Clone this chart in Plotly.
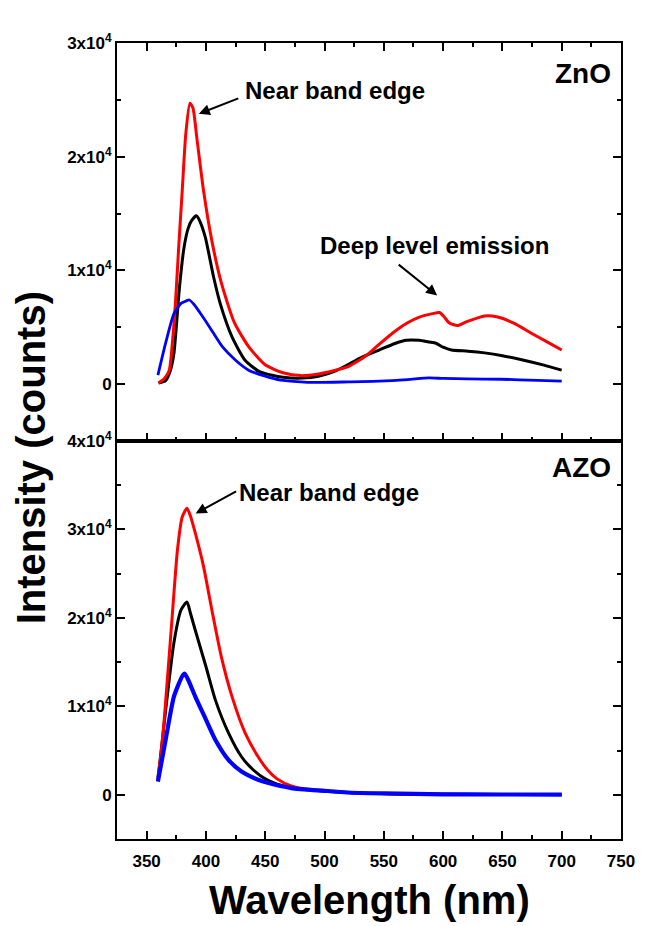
import plotly.graph_objects as go

# ---------------- data ----------------
# Top panel: ZnO
zno_red_x = [360, 365, 369, 372, 374.5, 377, 380, 383, 386.5, 389, 392.5, 398, 405, 413, 424, 436, 450,
             465, 480, 495, 510, 520, 535, 546, 560, 570, 580, 591, 597, 601, 605, 612, 620, 635, 646,
             660, 674, 688, 700]
zno_red_y = [100, 500, 1200, 4000, 7500, 12000, 17000, 22000, 24700, 24300, 21500, 17000, 12600, 8900,
             5400, 3300, 1700, 1000, 750, 900, 1250, 1550, 2500, 3500, 4700, 5400, 5900, 6200, 6300,
             5900, 5400, 5150, 5500, 6000, 5900, 5350, 4500, 3700, 3000]

zno_black_x = [360, 366, 370, 373, 375, 377.5, 381.5, 385, 388, 392, 395, 399.5, 406.5, 412, 422, 433,
               445, 455, 465, 481, 495, 510, 519, 530, 546, 560, 569, 580, 588, 594, 600, 607, 621,
               635, 650, 668, 685, 700]
zno_black_y = [100, 300, 1200, 2700, 5000, 8300, 12000, 13700, 14400, 14800, 14300, 12900, 9400, 7100,
               4150, 2100, 1100, 800, 600, 530, 700, 1200, 1670, 2300, 3000, 3600, 3860, 3850, 3700,
               3600, 3250, 3000, 2900, 2750, 2500, 2100, 1670, 1230]

zno_blue_x = [359.5, 366, 373, 379, 383, 386, 390, 394.6, 403, 414, 425, 436, 450, 463, 480, 491, 520,
              546, 570, 588, 600, 620, 649, 680, 700]
zno_blue_y = [790, 3600, 6200, 7100, 7300, 7400, 7000, 6340, 5030, 3270, 2100, 1230, 700, 350, 200, 150,
              200, 260, 400, 550, 500, 460, 430, 330, 260]

# Bottom panel: AZO
azo_red_x = [359.5, 362, 365, 370.5, 376, 380, 384, 387, 391, 398, 405, 413, 422, 433, 444, 452, 460,
             472, 491, 520, 560, 600, 650, 700]
azo_red_y = [2000, 4500, 8800, 18300, 27700, 31400, 32400, 31500, 29600, 25800, 20900, 15600, 11100,
             7000, 4300, 2800, 1800, 1000, 500, 250, 100, 50, 30, 20]

azo_black_x = [359.5, 366.4, 373, 379, 384, 387, 391, 400, 408, 419, 430, 440, 450, 460, 472, 491, 520,
               560, 600, 650, 700]
azo_black_y = [1700, 10000, 17200, 20900, 21800, 20500, 18600, 14500, 10700, 7000, 4300, 2800, 1800,
               1200, 800, 500, 250, 100, 50, 30, 20]

azo_blue_x = [359.5, 366, 373, 380, 382, 385, 391, 400, 408, 419, 430, 444, 452, 472, 500, 519, 550,
              600, 650, 700]
azo_blue_y = [1500, 6200, 11100, 13400, 13700, 13000, 11100, 8500, 6200, 3950, 2630, 1700, 1350, 760,
              450, 260, 150, 50, 30, 20]

top_ytick_vals = [0, 10000, 20000, 30000]
top_ytick_text = ["0", "1x10<sup>4</sup>", "2x10<sup>4</sup>", "3x10<sup>4</sup>"]
bot_ytick_vals = [0, 10000, 20000, 30000, 40000]
bot_ytick_text = ["0", "1x10<sup>4</sup>", "2x10<sup>4</sup>", "3x10<sup>4</sup>", "4x10<sup>4</sup>"]

# ---------------- figure ----------------
FONT = "Liberation Sans, Arial, sans-serif"
fig = go.Figure()

def add(x, y, color, width, xa, ya):
    fig.add_trace(go.Scatter(x=x, y=y, mode="lines", xaxis=xa, yaxis=ya,
                             line=dict(color=color, width=width, shape="spline", smoothing=0.6),
                             showlegend=False, hoverinfo="skip"))

add(zno_black_x, zno_black_y, "#000000", 3, "x", "y")
add(zno_red_x, zno_red_y, "#ff0000", 3, "x", "y")
add(zno_blue_x, zno_blue_y, "#0000ff", 2.8, "x", "y")
add(azo_black_x, azo_black_y, "#000000", 3, "x2", "y2")
add(azo_red_x, azo_red_y, "#ff0000", 3, "x2", "y2")
add(azo_blue_x, azo_blue_y, "#0000ff", 4.2, "x2", "y2")

tickfont = dict(family=FONT, size=17, color="black", weight="bold")
common_x = dict(range=[325, 750], showline=True, linewidth=2, linecolor="black",
                ticks="inside", ticklen=8, tickwidth=2, tickcolor="black",
                tick0=350, dtick=50, showgrid=False, zeroline=False,
                minor=dict(ticks="inside", ticklen=4, tickwidth=2, tickcolor="black",
                           tick0=325, dtick=25, showgrid=False),
                tickfont=tickfont)
common_y = dict(showline=True, linewidth=2, linecolor="black", mirror="ticks",
                ticks="inside", ticklen=8, tickwidth=2, tickcolor="black",
                tickmode="array", showgrid=False, zeroline=False,
                minor=dict(ticks="inside", ticklen=4, tickwidth=2, tickcolor="black",
                           tickmode="linear", tick0=0, dtick=5000, showgrid=False),
                tickfont=tickfont)

fig.update_layout(
    width=647, height=926,
    margin=dict(l=117, r=19, t=43, b=87),
    paper_bgcolor="white", plot_bgcolor="white",
    xaxis=dict(**common_x, anchor="y", mirror="ticks", showticklabels=False, matches="x2"),
    xaxis2=dict(**common_x, anchor="y2", mirror=True, showticklabels=True, ticklabelstandoff=6),
    yaxis=dict(**common_y, domain=[0.5, 1.0], anchor="x", range=[-5000, 30000],
               tickvals=top_ytick_vals, ticktext=top_ytick_text),
    yaxis2=dict(**common_y, domain=[0.0, 0.5], anchor="x2", range=[-5000, 40000],
                tickvals=bot_ytick_vals, ticktext=bot_ytick_text),
)

ann_font = dict(family=FONT, size=24, color="black", weight="bold")
label_font = dict(family=FONT, size=28, color="black", weight="bold")
title_font = dict(family=FONT, size=40, color="black", weight="bold")

annotations = [
    # panel labels
    dict(text="ZnO", xref="paper", yref="paper", x=0.984, y=0.9623, xanchor="right", yanchor="middle",
         showarrow=False, font=label_font),
    dict(text="AZO", xref="paper", yref="paper", x=0.985, y=0.4673, xanchor="right", yanchor="middle",
         showarrow=False, font=label_font),
    # text labels
    dict(text="Near band edge", xref="paper", yref="paper", x=0.4335, y=0.9397, xanchor="center",
         yanchor="middle", showarrow=False, font=ann_font),
    dict(text="Deep level emission", xref="paper", yref="paper", x=0.630, y=0.745, xanchor="center",
         yanchor="middle", showarrow=False, font=ann_font),
    dict(text="Near band edge", xref="paper", yref="paper", x=0.4198, y=0.4359, xanchor="center",
         yanchor="middle", showarrow=False, font=ann_font),
    # arrows
    dict(text="", xref="x", yref="y", x=394, y=23770, axref="pixel", ayref="pixel", ax=41, ay=-16,
         showarrow=True, arrowhead=2, arrowsize=1.1, arrowwidth=2, arrowcolor="black"),
    dict(text="", xref="x", yref="y", x=595, y=7800, axref="pixel", ayref="pixel", ax=-40, ay=-32,
         showarrow=True, arrowhead=2, arrowsize=1.1, arrowwidth=2, arrowcolor="black"),
    dict(text="", xref="x2", yref="y2", x=391.3, y=31800, axref="pixel", ayref="pixel", ax=42, ay=-23,
         showarrow=True, arrowhead=2, arrowsize=1.1, arrowwidth=2, arrowcolor="black"),
    # axis titles
    dict(text="Intensity (counts)", xref="paper", yref="paper", x=-0.170, y=0.4786, textangle=-90,
         xanchor="center", yanchor="middle", showarrow=False, font=title_font),
    dict(text="Wavelength (nm)", xref="paper", yref="paper", x=0.501, y=-0.0766,
         xanchor="center", yanchor="middle", showarrow=False, font=title_font),
]
fig.update_layout(annotations=annotations)

fig.write_html("out.html")
